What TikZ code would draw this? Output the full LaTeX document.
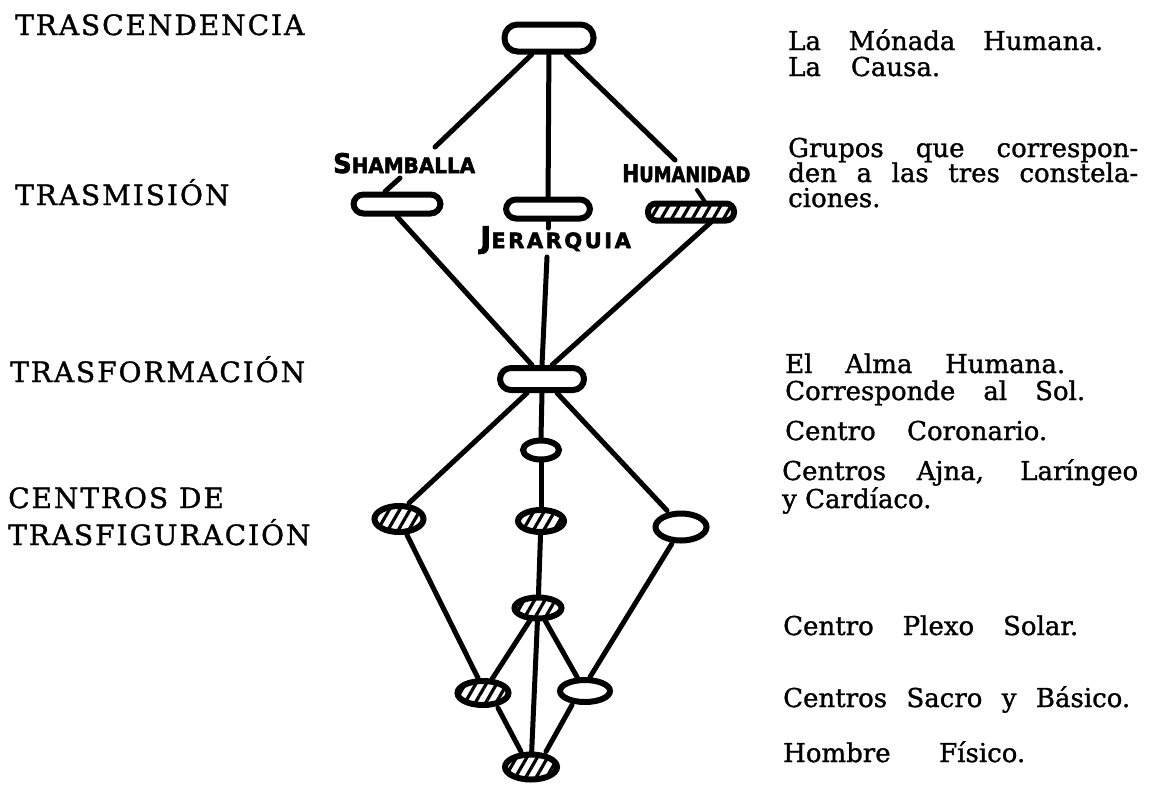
\documentclass[tikz,border=0pt]{standalone}
\usepackage{fontspec}
\setmainfont{DejaVu Serif}
\newfontfamily\rfont[FakeBold=1.2]{DejaVu Serif}
\newfontfamily\capfont[LetterSpace=7,FakeBold=1.2]{DejaVu Serif}
\newfontfamily\handfont[FakeBold=2.5]{DejaVu Sans Bold}
\newfontfamily\handfontsp[LetterSpace=12,FakeBold=2.5]{DejaVu Sans Bold}
\usetikzlibrary{shapes.geometric,patterns.meta}
\tikzset{
  pill/.style={draw,line width=6pt,rectangle,rounded corners=10pt,inner sep=0pt,fill=white},
  oval/.style={draw,line width=6pt,ellipse,inner sep=0pt,fill=white},
  hatch/.style={pattern={Lines[angle=60,distance=9pt,line width=3.2pt]}},
  link/.style={line width=5pt,line cap=round},
  lefttxt/.style={anchor=base west,inner sep=0pt,font=\capfont\fontsize{28}{30}\selectfont},
  righttxt/.style={anchor=base west,inner sep=0pt,font=\rfont\fontsize{26}{30}\selectfont},
  handlab/.style={anchor=base west,inner sep=0pt,font=\handfont\fontsize{21}{22}\selectfont}
}
\newcommand{\wl}[2]{\makebox[#1pt][s]{#2}}
\begin{document}
\begin{tikzpicture}[x=1pt,y=-1pt]
\useasboundingbox (0,0) rectangle (1150,788);
\fill[white] (0,0) rectangle (1150,788);

% shapes
\node[pill,minimum width=89pt,minimum height=27pt,rounded corners=13pt] (top) at (549,38) {};
\node[pill,minimum width=87pt,minimum height=19pt] (sham) at (397,204) {};
\node[pill,minimum width=84pt,minimum height=19pt] (jer) at (548,209) {};
\node[pill,hatch,minimum width=86pt,minimum height=17pt,rounded corners=8pt] (hum) at (691,212) {};
\node[pill,minimum width=84pt,minimum height=22pt,rounded corners=11pt] (trans) at (542,379) {};
\node[oval,minimum width=36pt,minimum height=19pt] (coro) at (541,450) {};
\node[oval,hatch,minimum width=49pt,minimum height=26pt] (ajna) at (399,519) {};
\node[oval,hatch,minimum width=46pt,minimum height=22pt] (lar) at (541,521) {};
\node[oval,minimum width=51pt,minimum height=27pt] (card) at (681,527) {};
\node[oval,hatch,minimum width=47pt,minimum height=21pt] (sol) at (538,608) {};
\node[oval,hatch,minimum width=51pt,minimum height=24pt] (sacro) at (483,693) {};
\node[oval,minimum width=50pt,minimum height=22pt] (basico) at (585,691) {};
\node[oval,hatch,minimum width=52pt,minimum height=25pt] (fis) at (531,767) {};

% hand-lettered labels
\node[handlab] (shlab) at (333,173) {\scalebox{0.95}[1]{{\fontsize{27}{27}\selectfont S}HAMBALLA}};
\node[handlab] (humlab) at (622,182) {\scalebox{0.85}[1]{{\fontsize{24}{24}\selectfont H}UMANIDAD}};
\node[handlab,font=\handfontsp\fontsize{21}{22}\selectfont] (jerlab) at (480,248) {{\fontsize{30}{30}\selectfont J}ERARQUIA};

% free ends
\coordinate (shtop) at (435,147);
\coordinate (humtop) at (675,160);
\coordinate (shtick) at (400,178);
\coordinate (humtick) at (697,190);
\coordinate (jertick) at (548,228);
\coordinate (jerbot) at (547,257);

% connectors
\draw[link] (top) -- (shtop);
\draw[link] (top) -- (humtop);
\draw[link] (top) -- (jer);
\draw[link] (shtick) -- ([xshift=-12pt]sham.north);
\draw[link,line width=4pt] (humtick) -- ([xshift=14pt]hum.north);
\draw[link] (jer.south) -- (jertick);
\draw[link] (sham.south) -- ([xshift=-10pt]trans.north);
\draw[link] (jerbot) -- (trans.north);
\draw[link] ([xshift=20pt]hum.south) -- ([xshift=10pt]trans.north);
\draw[link] ([xshift=-15pt]trans.south) -- ([xshift=10pt]ajna.north);
\draw[link] (trans.south) -- (coro.north);
\draw[link] ([xshift=15pt]trans.south) -- ([xshift=-14pt]card.north);
\draw[link] (coro) -- (lar);
\draw[link] (lar) -- (sol);
\draw[link] ([xshift=8pt]ajna.south) -- ([xshift=-5pt]sacro.north);
\draw[link] ([xshift=-9pt]card.south) -- ([xshift=5pt]basico.north);
\draw[link] (sol) -- (sacro);
\draw[link] (sol) -- (basico);
\draw[link] (sol) -- (fis);
\draw[link] ([xshift=15pt]sacro.south) -- ([xshift=-10pt]fis.north);
\draw[link] ([xshift=-13pt]basico.south) -- ([xshift=15pt]fis.north);

% left texts
\node[lefttxt] (l1) at (15,35) {TRASCENDENCIA};
\node[lefttxt] (l2) at (15,205) {TRASMISIÓN};
\node[lefttxt] (l3) at (10,382) {TRASFORMACIÓN};
\node[lefttxt] (l4) at (8,508) {CENTROS DE};
\node[lefttxt] (l5) at (8,545) {TRASFIGURACIÓN};

% right texts
\node[righttxt] (r1) at (788,50) {\wl{315}{La Mónada Humana.}};
\node[righttxt] (r2) at (788,76) {\wl{152}{La Causa.}};
\node[righttxt] (r3) at (788,157) {\wl{350}{Grupos que correspon-}};
\node[righttxt] (r4) at (788,182) {\wl{350}{den a las tres constela-}};
\node[righttxt] (r5) at (788,207) {ciones.};
\node[righttxt] (r6) at (785,373) {\wl{280}{El Alma Humana.}};
\node[righttxt] (r7) at (785,400) {\wl{300}{Corresponde al Sol.}};
\node[righttxt] (r8) at (785,440) {\wl{262}{Centro Coronario.}};
\node[righttxt] (r9) at (782,480) {\wl{356}{Centros Ajna, Laríngeo}};
\node[righttxt] (r10) at (782,508) {y Cardíaco.};
\node[righttxt] (r11) at (783,635) {\wl{295}{Centro Plexo Solar.}};
\node[righttxt] (r12) at (783,707) {\wl{347}{Centros Sacro y Básico.}};
\node[righttxt] (r13) at (783,762) {\wl{242}{Hombre Físico.}};
\end{tikzpicture}
\end{document}
